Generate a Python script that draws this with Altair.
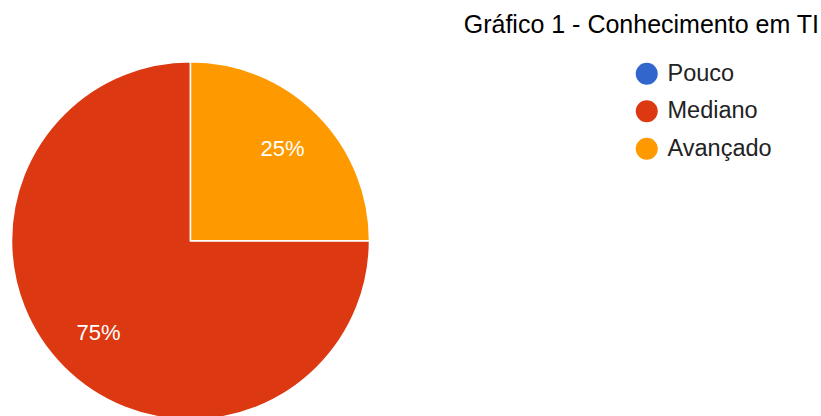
import altair as alt
import pandas as pd

categories = ["Pouco", "Mediano", "Avançado"]
values = [0, 75, 25]
slice_order = [3, 2, 1]
colors = ["#3366CC", "#DC3912", "#FF9900"]
title_text = "Gráfico 1 - Conhecimento em TI"

df = pd.DataFrame({"categoria": categories, "valor": values, "ordem": slice_order})
df["rotulo"] = [f"{v}%" for v in values]

FONT = "Liberation Sans"
cx, cy, R = 190.5, 240.7, 179

color = alt.Color(
    "categoria:N",
    scale=alt.Scale(domain=categories, range=colors),
    legend=alt.Legend(
        title=None,
        orient="none",
        legendX=635,
        legendY=62,
        symbolType="circle",
        symbolSize=484,
        symbolStrokeWidth=0,
        labelFont=FONT,
        labelFontSize=23.5,
        labelColor="#222222",
        labelOffset=9,
        rowPadding=12.5,
        padding=0,
    ),
)

base = alt.Chart(df)

arcs = base.mark_arc(stroke="white", strokeWidth=1.5, outerRadius=R).encode(
    theta=alt.Theta("valor:Q", stack=True),
    order=alt.Order("ordem:Q"),
    color=color,
    x=alt.value(cx),
    y=alt.value(cy),
)

labels = base.transform_filter("datum.valor > 0").mark_text(
    font=FONT, fontSize=22, color="white", radius=130
).encode(
    theta=alt.Theta("valor:Q", stack=True),
    order=alt.Order("ordem:Q"),
    text="rotulo:N",
    x=alt.value(cx),
    y=alt.value(cy),
)

title = alt.Chart(pd.DataFrame({"t": [title_text]})).mark_text(
    font=FONT, fontSize=25, color="#000000", align="right", baseline="alphabetic"
).encode(text="t:N", x=alt.value(819), y=alt.value(33))

chart = (
    alt.layer(arcs, labels, title)
    .properties(width=821, height=416, autosize=alt.AutoSizeParams(type="none"), padding=0)
    .configure_view(stroke=None)
)

chart.save("out.html", embed_options={"renderer": "svg", "actions": False})
